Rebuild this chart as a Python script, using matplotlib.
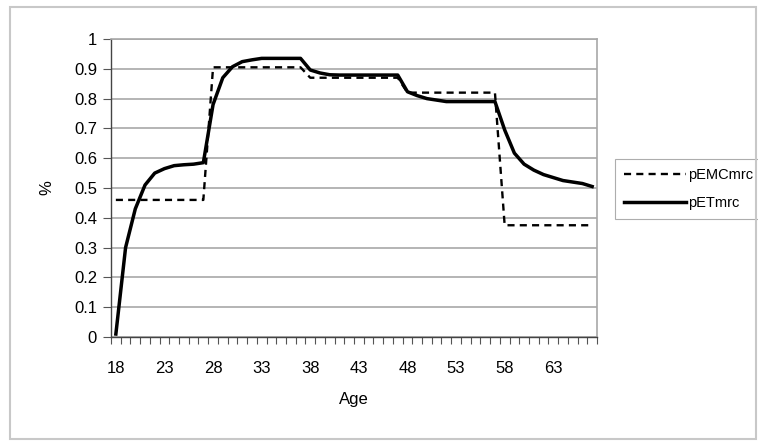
import matplotlib
matplotlib.use('Agg')
import matplotlib.pyplot as plt
from matplotlib.patches import Rectangle
import numpy as np

plt.rcParams['font.family'] = ['Liberation Sans', 'DejaVu Sans']

ages = list(range(18, 68))
# dashed step series, one value per age
pEMCmrc = [0.46] * 10 + [0.905] * 10 + [0.87] * 10 + [0.82] * 10 + [0.375] * 10
# solid smooth series
pETmrc = [0.01, 0.30, 0.43, 0.51, 0.55, 0.565, 0.575, 0.578, 0.58, 0.585,
          0.78, 0.87, 0.907, 0.924, 0.93, 0.935, 0.935, 0.935, 0.935, 0.935,
          0.896, 0.886, 0.88, 0.879, 0.879, 0.879, 0.879, 0.879, 0.879, 0.879,
          0.823, 0.81, 0.80, 0.795, 0.79, 0.79, 0.79, 0.79, 0.79, 0.79,
          0.695, 0.617, 0.58, 0.56, 0.545, 0.535, 0.525, 0.52, 0.515, 0.505]
xtick_labels = [18, 23, 28, 33, 38, 43, 48, 53, 58, 63]

W, H = 758, 442
fig = plt.figure(figsize=(W / 100, H / 100), dpi=100)
ax = fig.add_axes([111 / W, 1 - 337 / H, (597 - 111) / W, (337 - 39) / H])

ax.plot(ages, pEMCmrc, color='black', lw=1.7, ls=(0, (3, 2.2)), label='pEMCmrc')
ax.plot(ages, pETmrc, color='black', lw=2.5, label='pETmrc')

ax.set_xlim(17.5, 67.5)
ax.set_ylim(0, 1)
ax.set_yticks(np.arange(0, 1.01, 0.1))
ax.set_yticklabels(['0', '0.1', '0.2', '0.3', '0.4', '0.5', '0.6', '0.7', '0.8', '0.9', '1'])
ax.set_xticks(xtick_labels)
ax.set_xticklabels([str(a) for a in xtick_labels])
ax.set_xticks(np.arange(17.5, 68, 1), minor=True)
ax.tick_params(axis='x', which='major', length=0, labelsize=12, pad=17)
ax.tick_params(axis='x', which='minor', length=5, width=0.8, color='#555555')
ax.tick_params(axis='y', which='major', length=6, width=0.8, color='#555555', labelsize=12, pad=4)
ax.grid(axis='y', color='#a8a8a8', lw=1.2)
ax.set_axisbelow(True)

for side in ['left', 'bottom']:
    ax.spines[side].set_color('#444444')
    ax.spines[side].set_linewidth(1.0)
for side in ['top', 'right']:
    ax.spines[side].set_color('#a8a8a8')
    ax.spines[side].set_linewidth(1.2)

ax.set_xlabel('Age', fontsize=12, labelpad=12)
ax.set_ylabel('%', fontsize=12, labelpad=14)

leg = ax.legend(loc='center left', bbox_to_anchor=(615 / W, 1 - 189 / H),
                bbox_transform=fig.transFigure, frameon=True, fancybox=False,
                fontsize=10.5, handlelength=4.25, handletextpad=0.15,
                borderpad=0.6, labelspacing=1.0, borderaxespad=0)
leg.get_frame().set_edgecolor('#999999')
leg.get_frame().set_linewidth(0.8)

fig.patches.append(Rectangle((10 / W, 1 - 439 / H), (756 - 10) / W, (439 - 7) / H,
                             transform=fig.transFigure, fill=False,
                             edgecolor='#c8c8c8', lw=1.5))

fig.savefig('out.png', dpi=100)
